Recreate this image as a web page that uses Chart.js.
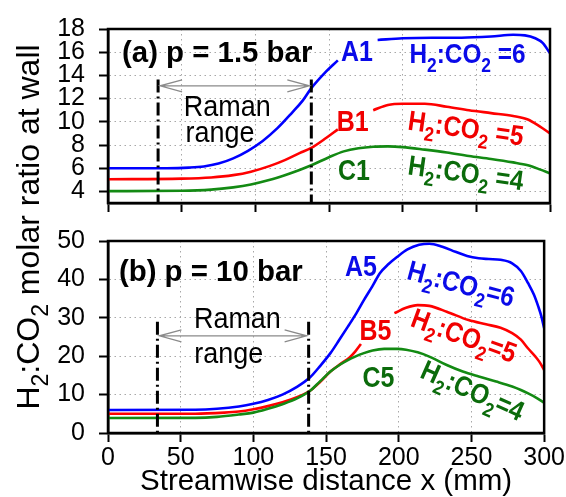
<!DOCTYPE html>
<html>
<head>
<meta charset="utf-8">
<title>H2:CO2 molar ratio at wall</title>
<script src="https://cdn.jsdelivr.net/npm/chart.js@4.4.1/dist/chart.umd.min.js"></script>
<style>
  html, body { margin: 0; padding: 0; background: #fff; }
  #wrap { position: relative; width: 566px; height: 497px; overflow: hidden; }
  #wrap canvas { position: absolute; left: 0; top: 0; }
  #topCv { z-index: 2; }
</style>
</head>
<body>
<div id="wrap">
  <canvas id="botCv" width="566" height="497"></canvas>
  <canvas id="topCv" width="566" height="232"></canvas>
</div>
<script>
const FONT = '"Liberation Sans", Arial, Helvetica, sans-serif';
Chart.defaults.font.family = FONT;
Chart.defaults.color = '#000';

const BLUE = '#0000ff', RED = '#ff0000', GREEN = '#138a13';
const BLUE_T = '#0a0ae8', RED_T = '#f00000', GREEN_T = '#0b6b0b';

// tick values
const xTicks = [0, 50, 100, 150, 200, 250, 300];
const yTicksA = [4, 6, 8, 10, 12, 14, 16, 18];
const yTicksB = [0, 10, 20, 30, 40, 50];

// (a) p = 1.5 bar -- null leaves a break behind the curve name
const xA1 = [0, 40, 55, 65, 75, 85, 95, 105, 115, 125, 132, 138, 147, 156, 170, 183, 200, 220, 240, 260, 275, 283, 290, 295, 300];
const yA1 = [6, 6, 6.05, 6.15, 6.4, 6.85, 7.5, 8.35, 9.45, 10.8, 11.8, 12.9, 14.2, 15.3, null, 17.05, 17.2, 17.25, 17.25, 17.35, 17.5, 17.45, 17.2, 16.8, 15.9];
const xB1 = [0, 50, 70, 85, 97, 110, 120, 130, 138, 148, 156, 168, 180, 190, 200, 215, 230, 245, 260, 275, 285, 293, 300];
const yB1 = [5.05, 5.1, 5.2, 5.4, 5.7, 6.2, 6.7, 7.3, 7.75, 8.6, 9.35, null, 11.0, 11.45, 11.55, 11.55, 11.3, 11.0, 10.75, 10.5, 10.2, 9.6, 9.0];
const xC1 = [0, 50, 70, 85, 97, 110, 120, 130, 138, 150, 160, 170, 180, 190, 200, 215, 230, 245, 260, 275, 285, 293, 300];
const yC1 = [4.02, 4.05, 4.15, 4.35, 4.6, 5.0, 5.4, 5.85, 6.25, 6.95, 7.45, 7.72, 7.85, 7.88, 7.82, 7.6, 7.35, 7.05, 6.8, 6.5, 6.25, 5.9, 5.55];

// (b) p = 10 bar
const xA5 = [0, 60, 75, 90, 100, 110, 120, 130, 139, 146, 153, 159, 165, 171, 176, 182, 187, 193, 199, 206, 214, 221, 230, 239, 247, 255, 262, 270, 278, 284, 289, 293, 296, 298, 300];
const yA5 = [6, 6.05, 6.3, 6.9, 7.6, 8.6, 10, 12, 14.5, 17.5, 20.8, 24.2, 27.7, 31.3, 34.6, 38.3, 41.6, 44, 45.9, 47.8, 49, 49.3, 48.5, 47.2, 46.1, 45.5, 45.3, 45.1, 44.2, 42.2, 39, 36, 32.9, 30.5, 27.3];
const xB5 = [0, 60, 80, 90, 100, 110, 120, 130, 139, 146, 153, 160, 166, 170, 174, 185, 197, 205, 213, 221, 233, 248, 260, 270, 278, 284, 289, 294, 297, 300];
const yB5 = [5, 5, 5.3, 5.6, 6.2, 7, 8, 9.3, 11, 13.3, 16, 18, 19.6, 21.2, 23.2, null, 31.2, 32.6, 33.3, 33.1, 31.6, 29.4, 28.3, 27.4, 26, 24.3, 22, 19.9, 18.4, 16.4];
const xC5 = [0, 60, 75, 90, 100, 110, 120, 130, 139, 146, 153, 160, 165, 170, 176, 182, 190, 199, 205, 213, 221, 233, 244, 255, 267, 278, 284, 289, 295, 300];
const yC5 = [3.9, 3.95, 4.2, 4.8, 5.3, 6.3, 7.5, 9, 11, 13.5, 16, 17.9, 19, 19.9, 20.8, 21.5, 21.9, 21.9, 21.7, 21, 19.9, 17.7, 16, 14.7, 13.4, 12.1, 11.2, 10.3, 9.1, 7.9];

// Raman measurement window (mm)
const ramanX = [34, 138];

const pts = (xs, ys) => xs.map((x, i) => ({ x, y: ys[i] }));
const line = (xs, ys, color) => ({
  data: pts(xs, ys), borderColor: color, borderWidth: 2.6, pointRadius: 0,
  fill: false, spanGaps: false, cubicInterpolationMode: 'monotone'
});

// text with digit subscripts written as "_2"; sx squeezes it horizontally
function richText(ctx, str, x, y, o) {
  const size = o.size || 24, weight = o.bold ? 'bold ' : '';
  const parts = str.split(/_(\d)/);
  const fMain = weight + size + 'px ' + FONT;
  const fSub = weight + Math.round(size * 0.72) + 'px ' + FONT;
  ctx.save();
  let w = 0;
  parts.forEach((p, i) => { ctx.font = i % 2 ? fSub : fMain; w += ctx.measureText(p).width; });
  ctx.translate(x, y);
  ctx.rotate((o.rot || 0) * Math.PI / 180);
  ctx.scale(o.sx || 1, 1);
  ctx.fillStyle = o.color || '#000';
  ctx.textBaseline = 'alphabetic';
  ctx.textAlign = 'left';
  let cx = o.align === 'left' ? 0 : -w / 2;
  const base = size * 0.36;
  parts.forEach((p, i) => {
    ctx.font = i % 2 ? fSub : fMain;
    ctx.fillText(p, cx, i % 2 ? base + size * 0.3 : base);
    cx += ctx.measureText(p).width;
  });
  ctx.restore();
}

const frame = {
  id: 'frame',
  afterDatasetsDraw(chart) {
    const { ctx, chartArea: a } = chart;
    ctx.save();
    ctx.strokeStyle = '#000';
    ctx.lineWidth = 2.5;
    ctx.strokeRect(a.left, a.top, a.right - a.left, a.bottom - a.top);
    ctx.restore();
  }
};

function makeNotes(cfg) {
  return {
    id: 'notes',
    afterDraw(chart) {
      const { ctx, chartArea } = chart;
      const px = v => chart.scales.x.getPixelForValue(v);
      const py = v => chart.scales.y.getPixelForValue(v);
      ctx.save();
      ctx.strokeStyle = '#000';
      ctx.lineWidth = 3;
      ctx.setLineDash([13, 4, 2, 4]);
      ramanX.forEach(v => {
        ctx.beginPath();
        ctx.moveTo(px(v), py(cfg.ramanTop));
        ctx.lineTo(px(v), chartArea.bottom);
        ctx.stroke();
      });
      ctx.setLineDash([]);
      // double-headed arrow between the two window edges
      const x1 = px(ramanX[0]) + 2, x2 = px(ramanX[1]) - 2, ay = py(cfg.arrowY);
      ctx.strokeStyle = '#8a8a8a';
      ctx.lineWidth = 1.3;
      ctx.beginPath();
      ctx.moveTo(x1, ay); ctx.lineTo(x2, ay);
      ctx.moveTo(x1 + 22, ay - 6); ctx.lineTo(x1, ay); ctx.lineTo(x1 + 22, ay + 6);
      ctx.moveTo(x2 - 22, ay - 6); ctx.lineTo(x2, ay); ctx.lineTo(x2 - 22, ay + 6);
      ctx.stroke();
      ctx.restore();
      cfg.labels.forEach(l => richText(ctx, l.t, px(l.x), py(l.y), l));
      if (cfg.yTitle) richText(ctx, cfg.yTitle.t, cfg.yTitle.x, cfg.yTitle.y, cfg.yTitle);
    }
  };
}

const gridOpts = { color: '#a8a8a8', lineWidth: 1, tickColor: '#000', tickWidth: 2, tickLength: 9 };
const borderOpts = { color: '#000', width: 2.5, dash: [1.5, 3.5] };

function xScale(labels) {
  return {
    type: 'linear', min: 0, max: 300,
    afterBuildTicks: s => { s.ticks = xTicks.map(v => ({ value: v })); },
    afterFit: s => { s.height = labels ? 64 : 14; },
    ticks: { display: labels, font: { size: 25 }, padding: 1, autoSkip: false, maxRotation: 0 },
    grid: gridOpts, border: borderOpts,
    title: { display: labels, text: 'Streamwise distance x (mm)', font: { size: 29.5, lineHeight: 1 }, padding: 0 }
  };
}

function yScale(min, max, ticks) {
  return {
    type: 'linear', min, max,
    afterBuildTicks: s => { s.ticks = ticks.map(v => ({ value: v })); },
    afterFit: s => { s.width = 108; },
    ticks: { font: { size: 25 }, padding: 14, autoSkip: false },
    grid: gridOpts, border: borderOpts
  };
}

function baseOptions(padTop, xs, ys) {
  return {
    responsive: false, animation: false,
    layout: { padding: { top: padTop, right: 16, left: 0, bottom: 0 } },
    plugins: { legend: { display: false }, tooltip: { enabled: false } },
    scales: { x: xs, y: ys }
  };
}

const tag = { size: 29, bold: true, sx: 0.86 };
const ratio = { size: 28, bold: true, sx: 0.87 };
const panel = { size: 30, bold: true, sx: 0.98, align: 'left' };

new Chart(document.getElementById('topCv'), {
  type: 'line',
  data: { datasets: [line(xC1, yC1, GREEN), line(xB1, yB1, RED), line(xA1, yA1, BLUE)] },
  options: baseOptions(23, xScale(false), yScale(3, 18, yTicksA)),
  plugins: [frame, makeNotes({
    ramanTop: 13.65, arrowY: 13.1,
    labels: [
      { ...panel, t: '(a) p = 1.5 bar', x: 9.5, y: 16.1 },
      { ...tag, t: 'A1', x: 169, y: 16.1, color: BLUE_T },
      { ...ratio, t: 'H_2:CO_2 =6', x: 244, y: 15.9, color: BLUE_T },
      { ...tag, t: 'B1', x: 166, y: 10.1, color: RED_T },
      { ...ratio, t: 'H_2:CO_2 =5', x: 243, y: 9.5, color: RED_T, rot: 8 },
      { ...tag, t: 'C1', x: 167, y: 5.9, color: GREEN_T },
      { ...ratio, t: 'H_2:CO_2 =4', x: 243, y: 5.65, color: GREEN_T, rot: 8 },
      { t: 'Raman', x: 81, y: 11.4, size: 29, sx: 0.93 },
      { t: 'range', x: 76, y: 9.2, size: 29, sx: 0.93 }
    ]
  })]
});

new Chart(document.getElementById('botCv'), {
  type: 'line',
  data: { datasets: [line(xC5, yC5, GREEN), line(xB5, yB5, RED), line(xA5, yA5, BLUE)] },
  options: baseOptions(241, xScale(true), yScale(0, 50, yTicksB)),
  plugins: [frame, makeNotes({
    ramanTop: 29, arrowY: 25.3,
    yTitle: { t: 'H_2:CO_2 molar ratio at wall', x: 27, y: 227, size: 32, rot: -90 },
    labels: [
      { ...panel, t: '(b) p = 10 bar', x: 7.5, y: 42.4 },
      { ...tag, t: 'A5', x: 174, y: 43.7, color: BLUE_T },
      { ...ratio, t: 'H_2:CO_2=6', x: 243, y: 39, color: BLUE_T, rot: 15 },
      { ...tag, t: 'B5', x: 184, y: 27, color: RED_T },
      { ...ratio, t: 'H_2:CO_2=5', x: 245, y: 25.5, color: RED_T, rot: 20 },
      { ...tag, t: 'C5', x: 186, y: 14.6, color: GREEN_T },
      { ...ratio, t: 'H_2:CO_2=4', x: 251, y: 11.2, color: GREEN_T, rot: 24 },
      { t: 'Raman', x: 89, y: 30, size: 29, sx: 0.93 },
      { t: 'range', x: 83, y: 21, size: 29, sx: 0.93 }
    ]
  })]
});
</script>
</body>
</html>
